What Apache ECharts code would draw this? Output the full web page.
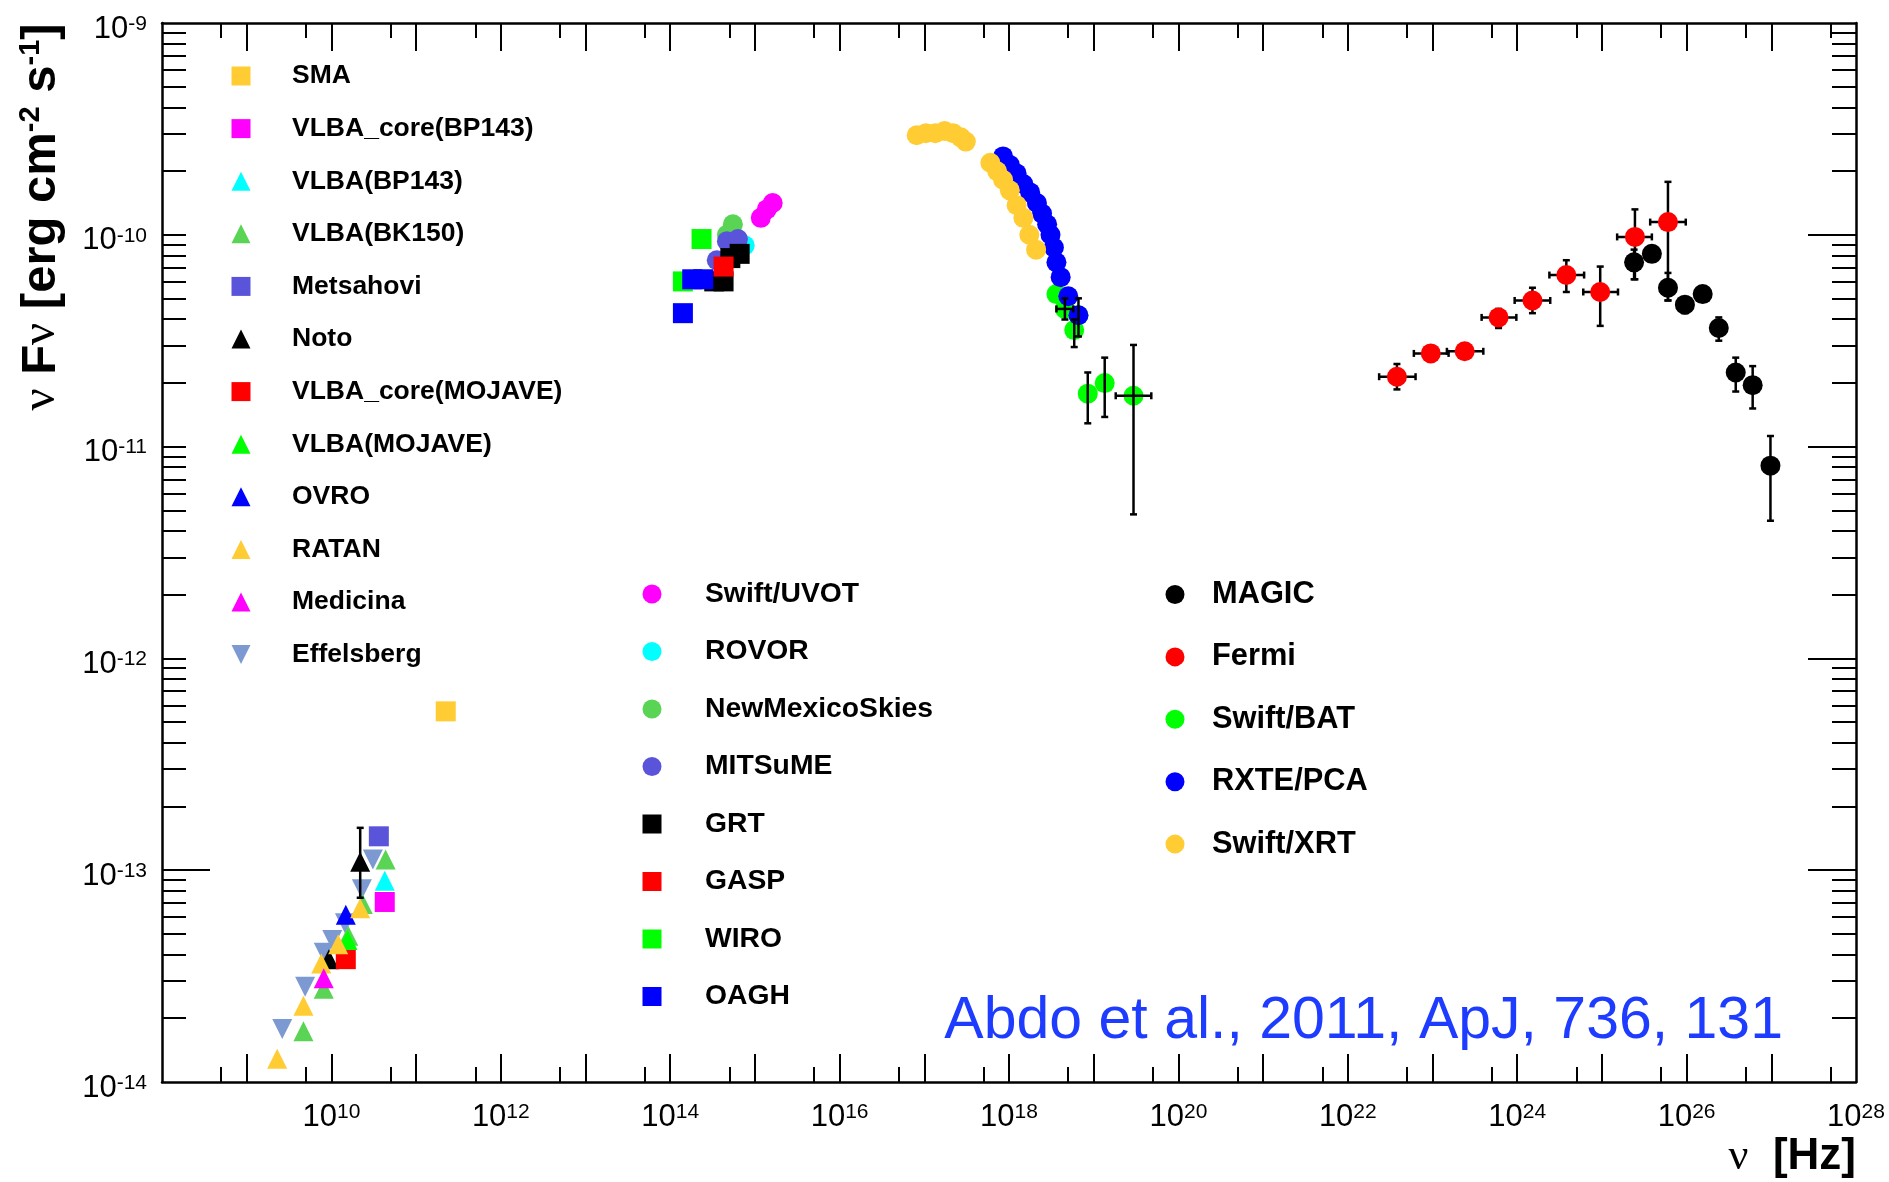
<!DOCTYPE html>
<html>
<head>
<meta charset="utf-8">
<title>SED</title>
<script src="https://cdn.jsdelivr.net/npm/echarts@6/dist/echarts.min.js"></script>
<style>
    html, body { margin: 0; padding: 0; background: #fff; }
    #chart { width: 1889px; height: 1182px; }
</style>
</head>
<body>
<div id="chart"></div>
<script>
// all points as [log10 nu (Hz), log10 nuFnu (erg cm-2 s-1)]

// radio
const sma = [[11.35, -12.25]];
const vlbaCoreBP143 = [[10.63, -13.15]];
const vlbaBP143 = [[10.63, -13.05]];
const vlbaBK150 = [[9.67, -13.76], [9.91, -13.56], [10.20, -13.31], [10.37, -13.16], [10.64, -12.95]];
const metsahovi = [[10.56, -12.84]];
const noto = [[9.97, -13.42], [10.34, -12.96]];
const vlbaCoreMojave = [[10.17, -13.42]];
const vlbaMojave = [[10.19, -13.33]];
const ovro = [[10.17, -13.21]];
const ratan = [[9.36, -13.89], [9.67, -13.64], [9.88, -13.44], [10.08, -13.35], [10.34, -13.18]];
const medicina = [[9.91, -13.51]];
const effelsberg = [[9.42, -13.75], [9.69, -13.55], [9.91, -13.39], [10.01, -13.33], [10.16, -13.25], [10.36, -13.09], [10.49, -12.95]];

// optical / UV
const swiftUvot = [[15.07, -9.92], [15.14, -9.88], [15.21, -9.85]];
const rovor = [[14.88, -10.05]];
const newMexicoSkies = [[14.74, -9.95], [14.67, -10.00]];
const mitsume = [[14.55, -10.12], [14.67, -10.03], [14.80, -10.02]];
const grt = [[14.82, -10.09], [14.71, -10.11], [14.63, -10.22], [14.52, -10.22]];
const gasp = [[14.63, -10.15]];
const wiro = [[14.37, -10.02], [14.15, -10.22]];
const oagh = [[14.15, -10.37], [14.26, -10.21], [14.39, -10.21]];

// X-ray / gamma
const magic = [[25.38, -10.13], [25.59, -10.09], [25.78, -10.25], [25.98, -10.33], [26.19, -10.28],
    [26.38, -10.44], [26.58, -10.65], [26.78, -10.71], [26.99, -11.09]];
const fermi = [[22.58, -10.67], [22.98, -10.56], [23.38, -10.55], [23.78, -10.39], [24.18, -10.31],
    [24.58, -10.19], [24.98, -10.27], [25.39, -10.01], [25.78, -9.94]];
const swiftBat = [[18.56, -10.28], [18.66, -10.35], [18.77, -10.45], [18.82, -10.38], [18.93, -10.75],
    [19.13, -10.70], [19.47, -10.76]];
const rxtePca = [[17.93, -9.63], [18.01, -9.67], [18.09, -9.71], [18.17, -9.76], [18.25, -9.80], [18.33, -9.85],
    [18.39, -9.90], [18.45, -9.95], [18.49, -10.00], [18.53, -10.06], [18.56, -10.13], [18.61, -10.20],
    [18.70, -10.29], [18.82, -10.38]];
const swiftXrt = [[16.91, -9.53], [17.02, -9.52], [17.13, -9.52], [17.24, -9.51], [17.34, -9.52], [17.43, -9.54],
    [17.49, -9.56], [17.78, -9.66], [17.86, -9.70], [17.93, -9.74], [18.01, -9.79], [18.09, -9.86],
    [18.17, -9.92], [18.24, -10.00], [18.32, -10.07]];

// error bars, same order as the points: [nuLow, nuHigh, fluxLow, fluxHigh] (log10), null = none
const notoErr = [[null, null, null, null], [null, null, -13.13, -12.80]];
const magicErr = [[null, null, -10.21, -10.07], [null, null, null, null], [null, null, -10.31, -10.18],
    [null, null, -10.37, -10.30], [null, null, null, null], [null, null, -10.50, -10.39],
    [null, null, -10.74, -10.58], [null, null, -10.82, -10.62], [null, null, -11.35, -10.95]];
const fermiErr = [[22.37, 22.80, -10.73, -10.61], [22.78, 23.19, -10.58, -10.54], [23.17, 23.60, -10.57, -10.53],
    [23.58, 23.99, -10.44, -10.35], [23.97, 24.39, -10.37, -10.25], [24.38, 24.79, -10.27, -10.12],
    [24.78, 25.19, -10.43, -10.15], [25.18, 25.59, -10.21, -9.88], [25.57, 25.99, -10.31, -9.75]];
const swiftBatErr = [[null, null, null, null], [18.56, 18.76, -10.40, -10.30], [null, null, -10.53, -10.40],
    [null, null, -10.48, -10.30], [null, null, -10.89, -10.65], [null, null, -10.86, -10.58],
    [19.26, 19.68, -11.32, -10.52]];

// axis ticks (exponents)
const xMajorExp = [9, 10, 11, 12, 13, 14, 15, 16, 17, 18, 19, 20, 21, 22, 23, 24, 25, 26, 27];
const xMinorExp = [8, 9, 10, 11, 12, 13, 14, 15, 16, 17, 18, 19, 20, 21, 22, 23, 24, 25, 26, 27]; // 5 x 10^n
const xLabelExp = [10, 12, 14, 16, 18, 20, 22, 24, 26, 28];
const yMajorExp = [-13, -12, -11, -10];
const yMinorExp = [-14, -13, -12, -11, -10];
const yMinorMant = [2, 3, 4, 5, 6, 7, 8, 9];
const yLabelExp = [-14, -13, -12, -11, -10, -9];

const SANS = "'Liberation Sans', Arial, Helvetica, sans-serif";
const SERIF = "'Liberation Serif', 'DejaVu Serif', serif";
const SQUARE = 'path://M0,0H10V10H0Z';
const TRI_UP = 'path://M5,0L10,10H0Z';
const TRI_DOWN = 'path://M0,0H10L5,10Z';
const CIRCLE = 'circle';

const lin = v => Math.pow(10, v);
const pts = arr => arr.map(p => [lin(p[0]), lin(p[1])]);
const pow10 = e => Number('1e' + e);

const xMajor = xMajorExp.map(pow10);
const xMinor = xMinorExp.map(e => Number('5e' + e));
const xLabels = xLabelExp.map(pow10);
const yMajor = yMajorExp.map(pow10);
const yMinor = [];
yMinorExp.forEach(e => yMinorMant.forEach(m => yMinor.push(Number(m + 'e' + e))));
const yLabels = yLabelExp.map(pow10);

const radio = [
    ['SMA', sma, SQUARE, '#ffcc33'],
    ['VLBA_core(BP143)', vlbaCoreBP143, SQUARE, '#ff00ff'],
    ['VLBA(BP143)', vlbaBP143, TRI_UP, '#00ffff'],
    ['VLBA(BK150)', vlbaBK150, TRI_UP, '#59d454'],
    ['Metsahovi', metsahovi, SQUARE, '#5954d9'],
    ['Noto', noto, TRI_UP, '#000000'],
    ['VLBA_core(MOJAVE)', vlbaCoreMojave, SQUARE, '#ff0000'],
    ['VLBA(MOJAVE)', vlbaMojave, TRI_UP, '#00ff00'],
    ['OVRO', ovro, TRI_UP, '#0000ff'],
    ['RATAN', ratan, TRI_UP, '#ffcc33'],
    ['Medicina', medicina, TRI_UP, '#ff00ff'],
    ['Effelsberg', effelsberg, TRI_DOWN, '#7d99d1']
];
const optical = [
    ['Swift/UVOT', swiftUvot, CIRCLE, '#ff00ff'],
    ['ROVOR', rovor, CIRCLE, '#00ffff'],
    ['NewMexicoSkies', newMexicoSkies, CIRCLE, '#59d454'],
    ['MITSuME', mitsume, CIRCLE, '#5954d9'],
    ['GRT', grt, SQUARE, '#000000'],
    ['GASP', gasp, SQUARE, '#ff0000'],
    ['WIRO', wiro, SQUARE, '#00ff00'],
    ['OAGH', oagh, SQUARE, '#0000ff']
];
const highEnergy = [
    ['MAGIC', magic, CIRCLE, '#000000'],
    ['Fermi', fermi, CIRCLE, '#ff0000'],
    ['Swift/BAT', swiftBat, CIRCLE, '#00ff00'],
    ['RXTE/PCA', rxtePca, CIRCLE, '#0000ff'],
    ['Swift/XRT', swiftXrt, CIRCLE, '#ffcc33']
];

function scatter(row) {
    return {
        name: row[0], type: 'scatter', data: pts(row[1]),
        symbol: row[2], symbolSize: 20, z: 2,
        itemStyle: {color: row[3], opacity: 1},
        emphasis: {disabled: true}
    };
}

// error bars through the axes: [nu, flux, nuLo, nuHi, fluxLo, fluxHi]
function errorBars(points, errs, z) {
    const data = points.map((p, i) => {
        const e = errs[i];
        return [p[0], p[1], e[0] ?? p[0], e[1] ?? p[0], e[2] ?? p[1], e[3] ?? p[1]].map(lin);
    });
    return {
        type: 'custom', z: z, silent: true, data: data,
        encode: {x: 0, y: 1},
        renderItem: (params, api) => {
            const c = api.coord([api.value(0), api.value(1)]);
            const st = {stroke: '#000', lineWidth: 2.5};
            const cap = 3.5;
            const seg = (x1, y1, x2, y2) => ({type: 'line', shape: {x1, y1, x2, y2}, style: st});
            const kids = [];
            if (api.value(2) !== api.value(3)) {
                const a = api.coord([api.value(2), api.value(1)])[0];
                const b = api.coord([api.value(3), api.value(1)])[0];
                kids.push(seg(a, c[1], b, c[1]), seg(a, c[1] - cap, a, c[1] + cap), seg(b, c[1] - cap, b, c[1] + cap));
            }
            if (api.value(4) !== api.value(5)) {
                const lo = api.coord([api.value(0), api.value(4)])[1];
                const hi = api.coord([api.value(0), api.value(5)])[1];
                kids.push(seg(c[0], lo, c[0], hi), seg(c[0] - cap, lo, c[0] + cap, lo), seg(c[0] - cap, hi, c[0] + cap, hi));
            }
            return {type: 'group', children: kids};
        }
    };
}

const tickRich = {
    b: {fontFamily: SANS, fontSize: 31, color: '#000', lineHeight: 31},
    s: {fontFamily: SANS, fontSize: 21, color: '#000', lineHeight: 14, verticalAlign: 'top'}
};
const expLabel = v => '{b|10}{s|' + Math.round(Math.log10(v)) + '}';
const frameLine = {lineStyle: {color: '#000', width: 2.5}};
const tickLine = {color: '#000', width: 2};

function xAxis(position, ticks, len, labels) {
    return {
        type: 'log', position: position, min: 1e8, max: 1e28,
        axisLine: labels !== false ? frameLine : {show: false},
        axisTick: {inside: true, length: len, customValues: ticks, lineStyle: tickLine},
        axisLabel: labels ? {customValues: labels, formatter: expLabel, rich: tickRich, margin: 20, color: '#000'} : {show: false},
        splitLine: {show: false}, minorTick: {show: false}
    };
}
function yAxis(position, ticks, len, labels) {
    return {
        type: 'log', position: position, min: 1e-14, max: 1e-9,
        axisLine: labels !== false ? frameLine : {show: false},
        axisTick: {inside: true, length: len, customValues: ticks, lineStyle: tickLine},
        axisLabel: labels ? {customValues: labels, formatter: expLabel, rich: tickRich, margin: 15, padding: [12, 0, 0, 0], color: '#000'} : {show: false},
        splitLine: {show: false}, minorTick: {show: false}
    };
}

// left = left edge of the first marker
function legend(rows, left, top, iconBox, gap, fontSize, extra) {
    return Object.assign({
        data: rows.map(r => r[0]), orient: 'vertical', left: left, top: top, padding: 0,
        itemWidth: iconBox, itemHeight: 19, itemGap: gap, selectedMode: false,
        textStyle: {fontFamily: SANS, fontWeight: 'bold', fontSize: fontSize, lineHeight: 30, color: '#000'}
    }, extra || {});
}

// Effelsberg sits underneath the other radio points in the original
const radioDrawOrder = [radio[11]].concat(radio.slice(0, 11));

const chart = echarts.init(document.getElementById('chart'));
chart.setOption({
    animation: false,
    backgroundColor: '#fff',
    grid: {left: 162, top: 23, width: 1694, height: 1059, outerBoundsMode: 'none'},
    xAxis: [
        xAxis('bottom', xMajor, 28, xLabels),
        xAxis('bottom', xMinor, 15, false),
        xAxis('top', xMajor, 28, null),
        xAxis('top', xMinor, 15, false)
    ],
    yAxis: [
        yAxis('left', yMajor, 48, yLabels),
        yAxis('left', yMinor, 24, false),
        yAxis('right', yMajor, 48, null),
        yAxis('right', yMinor, 24, false)
    ],
    legend: [
        // white box over the frame ticks, like the original legend pad
        legend(radio, 186, 61, 92, 22.6, 26.5, {padding: [0, 0, 0, 45.5], backgroundColor: '#fff'}),
        legend(optical, 642.5, 579, 96, 27.5, 28.3),
        legend(highEnergy, 1165.5, 579, 64, 31.4, 30.8)
    ],
    graphic: [
        {
            type: 'text', x: 1856, y: 1157, silent: true,
            style: {
                text: '{nu|ν}{b|  [Hz]}', align: 'right', verticalAlign: 'middle',
                rich: {
                    nu: {fontFamily: SERIF, fontSize: 44, fill: '#000'},
                    b: {fontFamily: SANS, fontSize: 44, fontWeight: 'bold', fill: '#000'}
                }
            }
        },
        {
            type: 'text', x: 41, y: 217, rotation: Math.PI / 2, silent: true,
            style: {
                text: '{nu|ν}{b| F}{nu|ν}{b| [erg cm}{s|-2}{b| s}{s|-1}{b|]}',
                align: 'center', verticalAlign: 'middle',
                rich: {
                    nu: {fontFamily: SERIF, fontSize: 49, fill: '#000', lineHeight: 49},
                    b: {fontFamily: SANS, fontSize: 49, fontWeight: 'bold', fill: '#000', lineHeight: 49},
                    s: {fontFamily: SANS, fontSize: 29, fontWeight: 'bold', fill: '#000', lineHeight: 14, verticalAlign: 'top'}
                }
            }
        },
        {
            type: 'text', x: 1783, y: 1022, silent: true,
            style: {
                text: 'Abdo et al., 2011, ApJ, 736, 131', fill: '#1e3cff',
                fontFamily: SANS, fontSize: 59, align: 'right', verticalAlign: 'middle'
            }
        }
    ],
    series: [
        ...radioDrawOrder.map(scatter),
        errorBars(noto, notoErr, 3),
        ...optical.map(scatter),
        errorBars(magic, magicErr, 1),
        errorBars(fermi, fermiErr, 1),
        ...highEnergy.map(scatter),
        errorBars(swiftBat, swiftBatErr, 3)
    ]
});
</script>
</body>
</html>
